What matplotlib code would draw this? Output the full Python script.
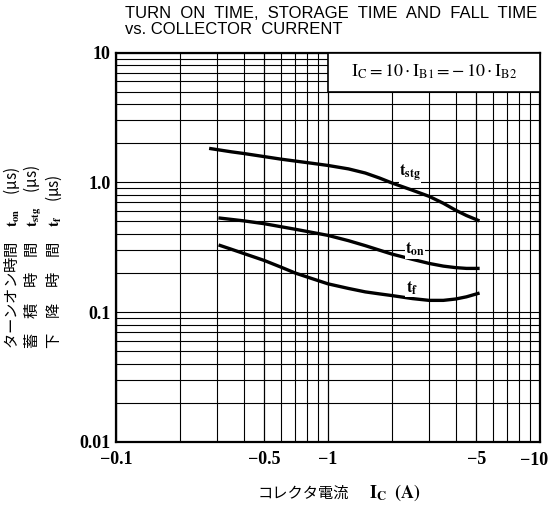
import matplotlib
matplotlib.use("Agg")
import matplotlib.pyplot as plt
from matplotlib.patches import Rectangle
from matplotlib.ticker import FixedLocator, NullFormatter, LogLocator

plt.rcParams['mathtext.fontset'] = 'stix'

# Data
ic_stg = [0.28, 0.35, 0.4, 0.5, 0.6, 0.7, 0.85, 1.0, 1.25, 1.5, 1.75, 2.0, 2.5, 3.0, 3.5, 4.0, 4.5, 5.1]
t_stg = [1.82, 1.72, 1.67, 1.58, 1.51, 1.46, 1.40, 1.35, 1.27, 1.18, 1.08, 0.99, 0.87, 0.78, 0.69, 0.61, 0.555, 0.51]

ic_on = [0.31, 0.4, 0.5, 0.6, 0.7, 0.85, 1.0, 1.25, 1.5, 1.75, 2.0, 2.5, 3.0, 3.5, 4.0, 4.5, 5.1]
t_on = [0.53, 0.505, 0.48, 0.455, 0.435, 0.41, 0.39, 0.355, 0.325, 0.30, 0.28, 0.255, 0.237, 0.226, 0.22, 0.217, 0.217]

ic_f = [0.31, 0.35, 0.4, 0.5, 0.6, 0.7, 0.85, 1.0, 1.25, 1.5, 1.75, 2.0, 2.5, 3.0, 3.5, 4.0, 4.5, 5.1]
t_f = [0.326, 0.305, 0.283, 0.25, 0.222, 0.20, 0.18, 0.165, 0.152, 0.143, 0.138, 0.134, 0.127, 0.123, 0.123, 0.126, 0.131, 0.139]

x_ticks = [0.1, 0.5, 1, 5, 10]
x_labels = ["\u22120.1", "\u22120.5", "\u22121", "\u22125", "\u221210"]
y_ticks = [0.01, 0.1, 1.0, 10]
y_labels = ["0.01", "0.1", "1.0", "10"]

fig = plt.figure(figsize=(5.52, 5.08), dpi=100)
ax = fig.add_axes([0.2101, 0.1305, 0.7681, 0.7658])
ax.set_xscale('log')
ax.set_yscale('log')
ax.set_xlim(0.1, 10)
ax.set_ylim(0.01, 10)

ax.xaxis.set_major_locator(FixedLocator(x_ticks))
ax.yaxis.set_major_locator(FixedLocator(y_ticks))
ax.xaxis.set_minor_locator(LogLocator(base=10, subs=range(2, 10)))
ax.yaxis.set_minor_locator(LogLocator(base=10, subs=range(2, 10)))
ax.xaxis.set_minor_formatter(NullFormatter())
ax.yaxis.set_minor_formatter(NullFormatter())
# last x label drawn separately (shifted left so it stays inside the figure)
ax.set_xticklabels(x_labels[:-1] + [""])
ax.set_yticklabels(y_labels)
ax.tick_params(which='both', length=0)
ax.tick_params(axis='x', pad=7)
ax.tick_params(axis='y', pad=4)
tick_font = dict(family='Liberation Serif', weight='bold', size=13)
for lab in ax.get_xticklabels() + ax.get_yticklabels():
    lab.set_fontfamily(tick_font['family'])
    lab.set_fontweight(tick_font['weight'])
    lab.set_fontsize(tick_font['size'])
ax.annotate(x_labels[-1], xy=(x_ticks[-1], 0.01), xycoords='data',
            xytext=(-4, -7.6), textcoords='offset points', ha='center', va='top',
            fontfamily=tick_font['family'], fontweight='bold', fontsize=13,
            annotation_clip=False)

ax.grid(which='major', axis='x', color='black', linewidth=0.9)
ax.grid(which='minor', axis='x', color='black', linewidth=0.8)
ax.grid(which='both', axis='y', color='black', linewidth=0.8)
for s in ax.spines.values():
    s.set_linewidth(1.6)

# Condition box
ax.add_patch(Rectangle((1, 5), 9, 5, facecolor='white', edgecolor='black',
                       linewidth=1.2, zorder=3))
ax.text(3.16, 7.1, r"$\mathrm{I_C = 10 \cdot I_{B1} = -\,10 \cdot I_{B2}}$",
        ha='center', va='center', fontsize=13, zorder=4)

lw = 2.4
ax.plot(ic_stg, t_stg, color='black', linewidth=lw, zorder=5, solid_joinstyle='round')
ax.plot(ic_on, t_on, color='black', linewidth=lw, zorder=5, solid_joinstyle='round')
ax.plot(ic_f, t_f, color='black', linewidth=lw, zorder=5, solid_joinstyle='round')

ax.text(2.44, 1.17, r"$\mathbf{t_{stg}}$", ha='center', va='center', fontsize=12, zorder=6,
        bbox=dict(facecolor='white', edgecolor='none', pad=0.3))
ax.text(2.57, 0.305, r"$\mathbf{t_{on}}$", ha='center', va='center', fontsize=12, zorder=6,
        bbox=dict(facecolor='white', edgecolor='none', pad=0.3))
ax.text(2.49, 0.154, r"$\mathbf{t_{f}}$", ha='center', va='center', fontsize=12, zorder=6,
        bbox=dict(facecolor='white', edgecolor='none', pad=0.3))

# Title
fig.text(125 / 552, 1 - 6 / 508,
         "TURN  ON  TIME,  STORAGE  TIME  AND  FALL  TIME\nvs. COLLECTOR  CURRENT",
         ha='left', va='top', fontsize=12, family='Liberation Sans', linespacing=1.05)

# X label
fig.text(303 / 552, 1 - 493 / 508, "コレクタ電流",
         ha='center', va='center', fontsize=11,
         family=['Noto Sans CJK JP', 'DejaVu Sans'])
fig.text(369 / 552, 1 - 493 / 508, r"$\mathbf{I_C\ \ (A)}$",
         ha='left', va='center', fontsize=13)

# Y label (three columns in one rotated text)
ylab = ("ターンオン時間　$\\mathbf{t_{on}}$　(μs)\n"
        "蓄　積　時　間　$\\mathbf{t_{stg}}$　(μs)\n"
        "下　降　時　間　$\\mathbf{t_{f}}$　(μs)")
fig.text(33 / 552, 1 - 349 / 508, ylab, rotation=90, rotation_mode='anchor',
         ha='left', va='center', multialignment='left', fontsize=11,
         linespacing=1.0, family=['Noto Sans CJK JP', 'DejaVu Sans'])

fig.savefig("out.png", dpi=100)
